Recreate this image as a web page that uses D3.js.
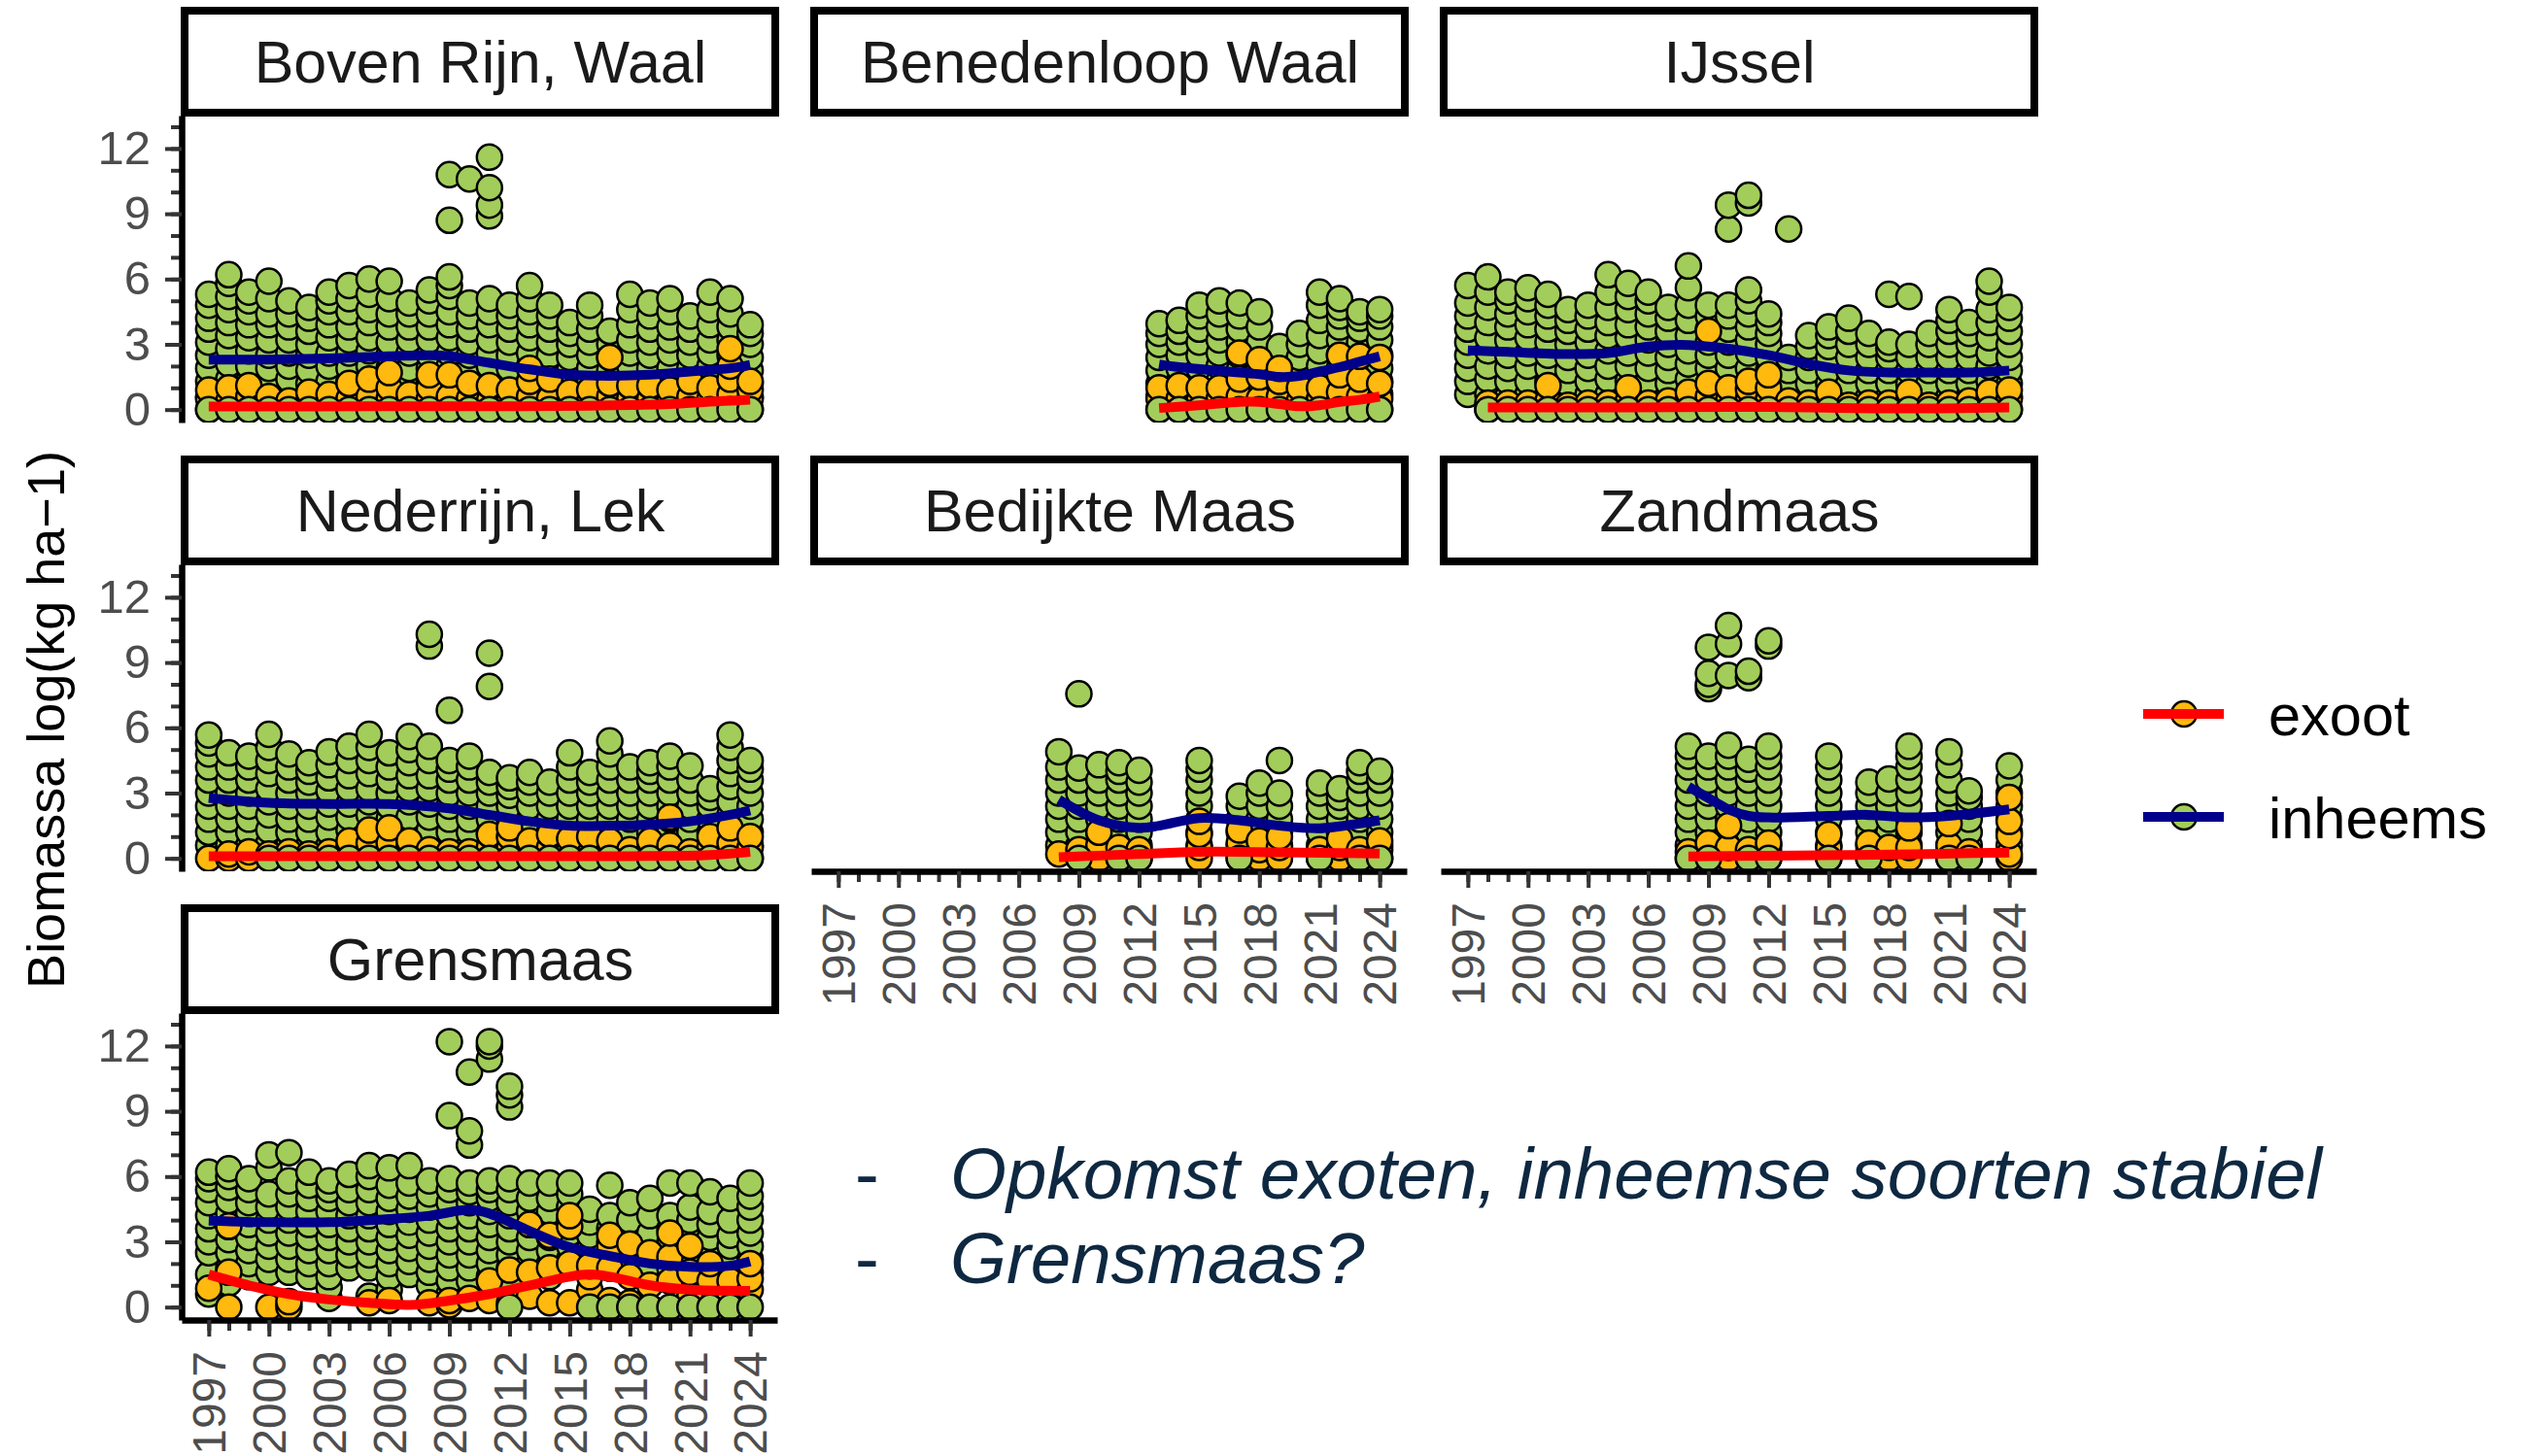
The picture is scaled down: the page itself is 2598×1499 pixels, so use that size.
<!DOCTYPE html>
<html><head><meta charset="utf-8">
<script src="https://cdn.jsdelivr.net/npm/d3@7"></script>
<style>body{margin:0;background:#fff}svg text{font-family:"Liberation Sans",Arial,Helvetica,sans-serif}</style>
</head><body><svg id="chart" width="2598" height="1499"></svg>
<script>
// ---------------- DATA ----------------
const panelNames = ["Boven Rijn, Waal","Benedenloop Waal","IJssel","Nederrijn, Lek","Bedijkte Maas","Zandmaas","Grensmaas"];
const xTickLabels = [1997,2000,2003,2006,2009,2012,2015,2018,2021,2024];
const xMinorTicks = [1997,1998,1999,2000,2001,2002,2003,2004,2005,2006,2007,2008,2009,2010,2011,2012,2013,2014,2015,2016,2017,2018,2019,2020,2021,2022,2023,2024];
const yTickLabels = [0,3,6,9,12];
const yMinorTicks = [0,1,2,3,4,5,6,7,8,9,10,11,12,13];
const seriesNames = ["exoot","inheems"];
const yTitle = "Biomassa log(kg ha\u22121)";
const notes = ["Opkomst exoten, inheemse soorten stabiel","Grensmaas?"];

const allYears = [1997,1998,1999,2000,2001,2002,2003,2004,2005,2006,2007,2008,2009,2010,2011,2012,2013,2014,2015,2016,2017,2018,2019,2020,2021,2022,2023,2024];

// Boven Rijn, Waal
const bovenRijnYears = allYears;
const bovenRijnInheems = [
"0 0.6 1.3 1.9 2.5 3.1 3.7 4.2 4.8 5.3","0 0.7 1.4 2.1 2.8 3.4 4.0 4.6 5.2 5.8 6.2","0 0.7 1.3 2.0 2.7 3.3 3.9 4.5 5.0 5.4",
"0 0.6 1.2 1.9 2.5 3.2 3.9 4.4 5.1 5.9","0 0.7 1.4 2.0 2.6 3.2 3.8 4.4 5.0","0 0.6 1.2 1.8 2.5 3.0 3.6 4.2 4.7",
"0 0.7 1.3 2.0 2.6 3.3 3.9 4.5 5.0 5.4","0 0.6 1.3 1.9 2.6 3.2 3.8 4.5 5.1 5.7","0 0.7 1.4 2.0 2.7 3.3 4.0 4.6 5.3 6.0",
"0 0.6 1.2 1.9 2.5 3.1 3.8 4.4 5.1 5.9","0 0.7 1.3 1.9 2.6 3.2 3.8 4.4 4.9","0 0.6 1.3 1.9 2.5 3.2 3.8 4.4 5.0 5.5",
"0 0.7 1.3 2.0 2.6 3.3 3.9 4.5 5.2 5.7 6.1 8.7 10.8","0 0.6 1.2 1.9 2.5 3.1 3.7 4.3 4.9 10.6","0 0.7 1.3 2.0 2.6 3.2 3.9 4.5 5.1 8.9 9.4 10.2 11.6",
"0 0.6 1.3 1.9 2.5 3.1 3.7 4.3 4.8","0 0.7 1.3 2.0 2.6 3.3 3.9 4.5 5.1 5.7","0 0.6 1.2 1.9 2.5 3.1 3.7 4.3 4.8",
"0 0.6 1.2 1.8 2.4 3.0 3.5 4.0","0 0.7 1.3 1.9 2.5 3.1 3.7 4.3 4.8","0 0.6 1.2 1.8 2.4 3.0 3.6",
"0 0.7 1.3 2.0 2.6 3.2 3.9 4.6 5.3","0 0.6 1.3 1.9 2.5 3.1 3.7 4.3 4.9","0 0.7 1.3 1.9 2.6 3.2 3.8 4.5 5.1",
"0 0.6 1.2 1.9 2.5 3.1 3.7 4.3","0 0.7 1.3 2.0 2.6 3.2 3.9 4.6 5.4","0 0.6 1.3 1.9 2.5 3.2 3.8 4.4 5.1",
"0 0.6 1.2 1.8 2.4 3.0 3.5 3.9"];
const bovenRijnExoot = [
"0 0.5 0.9","0 0.4 1.0","0 0.6 1.1","0 0.3 0.6","0 0.4","0 0.4 0.8","0 0.3 0.7","0 0.5 1.2","0 0.6 1.4","0 0.5 1.0 1.7",
"0 0.3 0.7","0 0.5 1.0 1.6","0 0.6 1.6","0 0.5 1.2","0 0.4 1.1","0 0.4 0.9","0 0.6 1.3 1.9","0 0.5 1.4","0 0.4 0.8","0 0.4 0.9",
"0 0.6 1.2 2.4","0 0.5 1.1","0 0.5 1.1","0 0.4 0.9","0 0.6 1.3","0 0.5 1.0","0 0.7 1.4 2.0 2.8","0 0.5 0.9 1.3"];
const bovenRijnTrendYears = [1997,2000,2003,2006,2008,2009,2011,2013,2015,2017,2019,2021,2023,2024];
const bovenRijnTrendInheems = [2.3,2.3,2.35,2.45,2.5,2.45,2.15,1.85,1.6,1.55,1.6,1.75,1.9,2.05];
const bovenRijnTrendExootYears = [1997,2001,2005,2010,2016,2020,2022,2024];
const bovenRijnTrendExoot = [0.14,0.14,0.15,0.15,0.18,0.25,0.37,0.45];

// Benedenloop Waal
const benedenloopYears = [2013,2014,2015,2016,2017,2018,2019,2020,2021,2022,2023,2024];
const benedenloopInheems = [
"0 0.6 1.2 1.8 2.4 3.0 3.5 3.95","0 0.7 1.3 1.9 2.5 3.1 3.6 4.1","0 0.6 1.3 1.9 2.5 3.1 3.7 4.3 4.8",
"0 0.7 1.3 2.0 2.6 3.2 3.8 4.4 5.0","0 0.6 1.2 1.8 2.5 3.1 3.7 4.3 4.9","0 0.7 1.3 1.9 2.5 3.1 3.8 4.5",
"0 0.6 1.2 1.8 2.4 2.9","0 0.6 1.2 1.8 2.4 3.0 3.5","0 0.7 1.3 2.0 2.7 3.4 4.1 4.8 5.4",
"0 0.6 1.3 1.9 2.5 3.2 3.8 4.3 4.7 5.1","0 0.6 1.2 1.9 2.5 3.1 3.7 4.2 4.5","0 0.7 1.3 1.9 2.5 3.2 3.8 4.3 4.6"];
const benedenloopExoot = ["0 0.5 1.0","0 0.5 1.1","0 0.4 1.0","0 0.5 1.0","0 0.6 1.4 2.6","0 0.5 1.5 2.3",
"0 0.6 1.3 1.9","0 0.4 1.0","0 0.5 1.0","0 0.8 1.6 2.5","0 0.6 1.4 2.45","0 0.5 1.2 2.4"];
const benedenloopTrendYears = [2013,2014,2016,2018,2019,2020,2021,2022,2023,2024];
const benedenloopTrendInheems = [2.08,1.95,1.78,1.63,1.5,1.55,1.75,1.95,2.2,2.45];
const benedenloopTrendExootYears = [2013,2015,2017,2018,2019,2020,2021,2022,2023,2024];
const benedenloopTrendExoot = [0.07,0.2,0.35,0.35,0.25,0.15,0.2,0.35,0.45,0.6];

// IJssel
const ijsselYears = allYears;
const ijsselInheems = [
"0.7 1.3 1.9 2.5 3.1 3.7 4.3 4.9 5.7","0 0.7 1.4 2.0 2.7 3.3 4.0 4.7 5.4 6.1","0 0.6 1.3 1.9 2.5 3.2 3.8 4.4 5.0 5.4",
"0 0.7 1.3 2.0 2.6 3.3 3.9 4.5 5.1 5.6","0 0.6 1.3 1.9 2.5 3.1 3.7 4.3 4.8 5.3","0 0.6 1.2 1.8 2.4 3.0 3.6 4.1 4.6",
"0 0.7 1.3 1.9 2.5 3.1 3.7 4.3 4.8","0 0.7 1.4 2.0 2.7 3.4 4.0 4.7 5.4 6.2","0 0.6 1.3 2.0 2.6 3.3 3.9 4.6 5.2 5.8",
"0 0.7 1.3 1.9 2.6 3.2 3.8 4.4 5.0 5.4","0 0.6 1.2 1.8 2.4 3.0 3.6 4.2 4.7","0 0.7 1.4 2.1 2.7 3.4 4.1 4.8 5.6 6.6",
"0 0.6 1.2 1.9 2.5 3.1 3.7 4.3 4.8","0 0.7 1.3 1.9 2.5 3.1 3.7 4.3 4.8 8.3 9.4","0 0.6 1.3 1.9 2.6 3.2 3.8 4.4 5.0 5.5 9.5 9.85",
"0 0.6 1.2 1.8 2.4 3.0 3.5 4.0 4.4","0 0.6 1.2 1.8 2.4 8.3","0 0.6 1.2 1.8 2.4 2.9 3.4",
"0 0.6 1.2 1.8 2.4 2.9 3.4 3.8","0 0.6 1.2 1.8 2.4 3.0 3.6 4.2","0 0.6 1.2 1.8 2.4 3.0 3.5",
"0 0.6 1.2 1.8 2.4 2.8 3.1 5.3","0 0.6 1.2 1.8 2.4 3.0 5.2","0 0.6 1.2 1.8 2.4 3.0 3.5",
"0 0.6 1.2 1.8 2.4 3.0 3.6 4.1 4.6","0 0.6 1.2 1.8 2.4 3.0 3.5 4.0","0 0.7 1.3 2.0 2.6 3.3 4.0 4.6 5.4 5.9",
"0 0.6 1.2 1.8 2.4 3.0 3.6 4.2 4.7"];
const ijsselExoot = ["","0 0.3","0 0.3","0 0.3","0 0.4 1.1","0 0.2","0 0.3","0 0.3","0 0.4 1.0","0 0.3","0 0.4",
"0 0.5 0.8","0 0.6 1.2 3.6","0 0.4 1.0","0 0.5 0.94 1.3","0 0.5 1.0 1.6","0 0.4","0 0.3","0 0.4 0.8","0 0.2",
"0 0.3","0 0.3","0 0.4 0.8","0 0.2","0 0.3","0 0.4","0 0.5 0.8","0 0.5 0.9"];
const ijsselTrendYears = [1997,1999,2002,2004,2006,2008,2010,2012,2014,2016,2018,2020,2022,2024];
const ijsselTrendInheems = [2.72,2.65,2.55,2.6,2.9,2.97,2.8,2.5,2.1,1.8,1.7,1.7,1.7,1.8];
const ijsselTrendExootYears = [1998,2005,2012,2018,2024];
const ijsselTrendExoot = [0.1,0.1,0.12,0.05,0.1];

// Nederrijn, Lek
const nederrijnYears = allYears;
const nederrijnInheems = [
"0.6 1.2 1.8 2.4 3.0 3.6 4.2 4.8 5.3 5.67","0.6 1.2 1.8 2.4 3.0 3.6 4.2 4.85","0.6 1.2 1.8 2.4 3.0 3.6 4.2 4.7",
"0 0.7 1.3 2.0 2.6 3.2 3.9 4.5 5.1 5.7","0 0.6 1.2 1.8 2.4 3.0 3.6 4.2 4.8","0 0.6 1.2 1.8 2.4 3.0 3.5 4.0 4.4",
"0 0.6 1.2 1.9 2.5 3.1 3.7 4.3 4.9","0 0.6 1.3 1.9 2.5 3.2 3.8 4.5 5.15","0 0.7 1.3 2.0 2.6 3.2 3.9 4.5 5.1 5.7",
"0 0.6 1.2 1.8 2.4 3.0 3.6 4.2 4.85","0 0.7 1.3 1.9 2.6 3.2 3.8 4.4 5.0 5.6","0 0.6 1.3 1.9 2.5 3.2 3.8 4.5 5.15 9.76 10.3",
"0 0.6 1.2 1.8 2.4 3.0 3.6 4.1 4.5 6.8","0 0.6 1.2 1.8 2.4 3.0 3.6 4.2 4.7","0 0.6 1.2 1.8 2.4 3.0 3.5 3.95 7.9 9.43",
"0 0.6 1.2 1.8 2.4 2.9 3.3 3.7","0 0.6 1.2 1.8 2.4 3.0 3.5 3.95","0 0.6 1.2 1.8 2.4 3.0 3.5",
"0 0.6 1.2 1.8 2.4 3.0 3.6 4.2 4.85","0 0.6 1.2 1.8 2.4 3.0 3.5 3.95","0 0.6 1.2 1.8 2.4 3.0 3.6 4.2 4.8 5.4",
"0 0.6 1.2 1.8 2.4 3.0 3.6 4.2","0 0.6 1.2 1.8 2.4 3.0 3.6 4.0 4.4","0 0.6 1.2 1.8 2.4 3.0 3.6 4.2 4.7",
"0 0.6 1.2 1.8 2.4 3.0 3.6 4.25","0 0.6 1.2 1.8 2.4 2.8 3.2","0 0.7 1.3 2.0 2.6 3.3 3.9 4.5 5.1 5.67",
"0 0.6 1.2 1.8 2.4 3.0 3.6 4.1 4.5"];
const nederrijnExoot = ["0","0 0.2","0 0.3","0 0.2","0 0.3","0 0.2","0 0.3","0 0.5 0.8","0 0.7 1.3","0 0.7 1.4",
"0 0.5 0.8","0 0.4","0 0.3","0 0.3","0 0.5 1.1","0 0.5 1.0 1.4","0 0.4 0.8","0 0.5 1.1","0 0.4 0.9","0 0.2 1.0",
"0 0.3 0.8","0 0.4","0 0.4 0.8","0 0.6 1.9","0 0.3","0 0.5 1.0","0 0.7 1.4","0 0.5 1.0"];
const nederrijnTrendYears = [1997,2000,2003,2006,2009,2011,2013,2015,2017,2019,2021,2023,2024];
const nederrijnTrendInheems = [2.77,2.55,2.5,2.5,2.3,2.0,1.7,1.5,1.5,1.55,1.7,2.0,2.2];
const nederrijnTrendExootYears = [1997,2005,2012,2018,2022,2024];
const nederrijnTrendExoot = [0.1,0.1,0.1,0.1,0.15,0.3];

// Bedijkte Maas
const bedijkteYears = [2008,2009,2010,2011,2012,2015,2017,2018,2019,2021,2022,2023,2024];
const bedijkteInheems = [
"0.6 1.2 1.8 2.4 3.0 3.6 4.2 4.9","0 0.6 1.2 1.8 2.4 3.0 3.6 4.15 7.56","0.6 1.2 1.8 2.4 3.0 3.6 4.3",
"0 0.6 1.2 1.8 2.4 3.0 3.6 4.0 4.4","0 0.6 1.2 1.8 2.4 3.0 3.5 4.05","0.6 1.2 1.8 2.4 3.0 3.6 4.1 4.5",
"0 0.6 1.2 1.8 2.4 2.86","0.6 1.2 1.8 2.4 3.0 3.46","0.6 1.2 1.8 2.4 3.0 4.5",
"0 0.6 1.2 1.8 2.4 3.0 3.46","0.6 1.2 1.8 2.4 2.8 3.2","0 0.6 1.2 1.8 2.4 3.0 3.6 4.0 4.4","0 0.6 1.2 1.8 2.4 3.0 3.6 4.0"];
const bedijkteExoot = ["0.2","0 0.4","0 0.6 1.2","0 0.5","0 0.4","0 0.5 1.1 1.7","0 0.7 1.3","0 0.4 0.8","0 0.5 1.0",
"0 0.4","0 0.5 0.9","0 0.4","0 0.4 0.8"];
const bedijkteTrendYears = [2008,2010,2012,2013,2015,2017,2019,2021,2023,2024];
const bedijkteTrendInheems = [2.7,1.75,1.4,1.5,1.85,1.75,1.5,1.38,1.6,1.75];
const bedijkteTrendExootYears = [2008,2012,2015,2019,2024];
const bedijkteTrendExoot = [0.05,0.2,0.3,0.28,0.22];

// Zandmaas
const zandmaasYears = [2008,2009,2010,2011,2012,2015,2017,2018,2019,2021,2022,2024];
const zandmaasInheems = [
"0 0.6 1.2 1.8 2.4 3.0 3.6 4.2 4.7 5.15","0 0.6 1.2 1.8 2.4 3.0 3.6 4.2 4.7 7.8 8.0 8.5 9.7",
"0.6 1.2 1.8 2.4 3.0 3.6 4.2 4.7 5.2 8.4 9.85 10.7","0 0.6 1.2 1.8 2.4 3.0 3.6 4.1 4.55 8.3 8.6",
"0 0.6 1.2 1.8 2.4 3.0 3.6 4.2 4.7 5.15 9.76 10.0","0 0.6 1.2 1.8 2.4 3.0 3.6 4.2 4.7",
"0 0.6 1.2 1.8 2.4 3.0 3.5","0.6 1.2 1.8 2.4 3.0 3.65","0.6 1.2 1.8 2.4 3.0 3.6 4.2 4.7 5.15",
"0 0.6 1.2 1.8 2.4 3.0 3.6 4.3 4.9","0 0.6 1.2 1.8 2.4 2.8 3.1","0.6 1.2 1.8 2.4 3.0 3.6 4.25"];
const zandmaasExoot = ["0 0.3","0 0.4 0.7","0 0.5 1.5","0 0.4","0 0.3 0.7","0 0.5 1.1","0 0.3 0.7","0 0.5","0 0.5 1.4",
"0 0.6 1.6","0 0.3","0 0.2 1.05 1.7 2.8"];
const zandmaasTrendYears = [2008,2009,2010,2011,2012,2015,2017,2019,2021,2024];
const zandmaasTrendInheems = [3.3,2.77,2.25,1.95,1.88,1.95,2.0,1.88,1.95,2.25];
const zandmaasTrendExootYears = [2008,2012,2016,2020,2024];
const zandmaasTrendExoot = [0.09,0.12,0.15,0.2,0.27];

// Grensmaas
const grensmaasYears = allYears;
const grensmaasInheems = [
"0.6 1.5 2.5 3.0 3.6 4.2 4.8 5.4 5.9 6.2","1.1 1.8 2.5 3.1 3.7 4.3 4.9 5.5 6.0 6.36","1.4 2.0 2.6 3.2 3.8 4.3 4.8 5.4 5.9",
"1.6 2.2 2.8 3.4 4.0 4.6 5.2 6.4 7.0","1.6 2.2 2.8 3.4 4.0 4.6 5.2 5.8 7.1","1.4 2.0 2.6 3.2 3.8 4.4 5.0 5.6 6.2",
"0.4 0.9 1.4 2.0 2.6 3.2 3.8 4.4 5.0 5.4 5.8","1.8 2.4 3.0 3.6 4.2 4.8 5.4 6.1","0.5 1.8 2.4 3.0 3.6 4.2 4.8 5.4 6.0 6.5",
"0.8 1.4 2.0 2.6 3.2 3.8 4.4 5.0 5.6 6.4","1.5 2.1 2.7 3.3 3.9 4.5 5.1 5.7 6.5","1.0 1.6 2.2 2.8 3.4 4.0 4.6 5.2 5.8",
"0.6 1.2 1.8 2.4 3.0 3.6 4.2 4.8 5.4 5.9 8.8 12.2","1.2 1.8 2.4 3.0 3.6 4.2 4.8 5.3 5.7 7.45 8.1 10.8",
"1.4 2.0 2.6 3.2 3.8 4.4 5.0 5.4 5.8 11.4 12.0 12.2","0 1.2 1.8 2.4 3.0 3.6 4.2 4.8 5.4 5.9 9.2 9.75 10.15",
"2.0 2.6 3.2 3.8 4.4 5.0 5.7","1.4 2.0 2.6 3.2 3.8 4.4 5.0 5.7","2.2 2.8 3.4 4.0 4.6 5.2 5.7",
"0 1.5 2.1 2.7 3.3 3.9 4.5","0 1.8 2.4 3.0 3.6 4.2 5.6","0 2.2 2.8 3.4 4.0 4.8","0 2.0 2.8 3.4 4.2 5.0",
"0 1.8 2.4 3.0 3.6 4.2 5.7","0 1.6 2.2 2.8 3.4 4.0 4.6 5.7","0 1.4 2.0 2.6 3.2 3.8 4.4 5.3",
"0 1.6 2.2 2.8 3.3 4.0 5.0","0 1.6 2.2 2.8 3.4 4.0 4.6 5.1 5.7"];
const grensmaasExoot = ["0.87","0 1.6 3.72","","0","0 0.25","","","","0.2","0.3","","0.2","0.1 0.3","0.4","0.3 1.2",
"0.2 1.7","0.5 1.6 3.8","0.2 1.8 3.3","0.2 2.0 3.7 4.2","0.8 1.4 1.9","0.3 1.8 2.8 3.3","0.2 1.4 2.9","1.0 2.5",
"1.2 2.3 3.4","0.5 1.6 2.8","1.2 2.0","0.6 1.2","0.8 1.3 2.0"];
const grensmaasTrendYears = [1997,2000,2003,2006,2008,2010,2011,2013,2015,2017,2019,2021,2023,2024];
const grensmaasTrendInheems = [3.97,3.9,3.9,4.05,4.2,4.47,4.3,3.5,2.75,2.35,2.0,1.85,1.9,2.1];
const grensmaasTrendExootYears = [1997,1999,2001,2003,2005,2007,2009,2011,2013,2015,2016,2017,2019,2021,2024];
const grensmaasTrendExoot = [1.5,1.0,0.6,0.35,0.2,0.1,0.3,0.6,1.0,1.4,1.5,1.4,1.0,0.8,0.75];

// ---------------- BUILD ----------------
const panels = [
 {years:bovenRijnYears,inh:bovenRijnInheems,exo:bovenRijnExoot,tY:bovenRijnTrendYears,tI:bovenRijnTrendInheems,tEY:bovenRijnTrendExootYears,tE:bovenRijnTrendExoot},
 {years:benedenloopYears,inh:benedenloopInheems,exo:benedenloopExoot,tY:benedenloopTrendYears,tI:benedenloopTrendInheems,tEY:benedenloopTrendExootYears,tE:benedenloopTrendExoot},
 {years:ijsselYears,inh:ijsselInheems,exo:ijsselExoot,tY:ijsselTrendYears,tI:ijsselTrendInheems,tEY:ijsselTrendExootYears,tE:ijsselTrendExoot},
 {years:nederrijnYears,inh:nederrijnInheems,exo:nederrijnExoot,tY:nederrijnTrendYears,tI:nederrijnTrendInheems,tEY:nederrijnTrendExootYears,tE:nederrijnTrendExoot},
 {years:bedijkteYears,inh:bedijkteInheems,exo:bedijkteExoot,tY:bedijkteTrendYears,tI:bedijkteTrendInheems,tEY:bedijkteTrendExootYears,tE:bedijkteTrendExoot},
 {years:zandmaasYears,inh:zandmaasInheems,exo:zandmaasExoot,tY:zandmaasTrendYears,tI:zandmaasTrendInheems,tEY:zandmaasTrendExootYears,tE:zandmaasTrendExoot},
 {years:grensmaasYears,inh:grensmaasInheems,exo:grensmaasExoot,tY:grensmaasTrendYears,tI:grensmaasTrendInheems,tEY:grensmaasTrendExootYears,tE:grensmaasTrendExoot}
];

const GREEN = "#A2CD5A", ORANGE = "#FFB90F", RED = "#FF0000", BLUE = "#00008B";
const W = 613, H = 316;
const colX = [187, 835, 1483], rowY = [119, 581, 1043];
const x = d3.scaleLinear().domain([1995.65, 2025.35]).range([0, W]);
const y = d3.scaleLinear().domain([-0.594, 13.513]).range([H, 0]);
const svg = d3.select("#chart");
const defs = svg.append("defs");
const parse = s => s.trim() === "" ? [] : s.trim().split(/\s+/).map(Number);
const lineGen = d3.line().x(d => x(d[0])).y(d => y(d[1])).curve(d3.curveCatmullRom.alpha(0.5));
const R = 13;

panels.forEach((p, i) => {
  const col = i % 3, row = Math.floor(i / 3);
  const g = svg.append("g").attr("transform", `translate(${colX[col]},${rowY[row]})`);
  defs.append("clipPath").attr("id", "clip" + i).append("rect").attr("x", 0).attr("y", 0).attr("width", W).attr("height", H);
  const pg = g.append("g").attr("clip-path", `url(#clip${i})`);
  const green = [], orange = [];
  p.years.forEach((yr, j) => {
    parse(p.inh[j]).forEach(v => green.push([yr, v]));
    parse(p.exo[j]).forEach(v => orange.push([yr, v]));
  });
  const layers = [[green.filter(d => d[1] > 0), GREEN], [orange, ORANGE], [green.filter(d => d[1] === 0), GREEN]];
  layers.forEach(([data, fill]) => {
    pg.append("g").selectAll("circle").data(data).join("circle")
      .attr("cx", d => x(d[0])).attr("cy", d => y(d[1])).attr("r", R)
      .attr("fill", fill).attr("stroke", "#000").attr("stroke-width", 2.5);
  });
  pg.append("path").attr("d", lineGen(p.tEY.map((yr, k) => [yr, p.tE[k]])))
    .attr("fill", "none").attr("stroke", RED).attr("stroke-width", 10);
  pg.append("path").attr("d", lineGen(p.tY.map((yr, k) => [yr, p.tI[k]])))
    .attr("fill", "none").attr("stroke", BLUE).attr("stroke-width", 10);

  // strip
  g.append("rect").attr("x", 3).attr("y", -108).attr("width", 608).attr("height", 105)
    .attr("fill", "#fff").attr("stroke", "#000").attr("stroke-width", 8);
  g.append("text").attr("x", W / 2 + 1).attr("y", -34).attr("text-anchor", "middle")
    .attr("font-size", 61).attr("fill", "#1A1A1A").text(panelNames[i]);

  // y axis (first column)
  if (col === 0) {
    const minor = g.append("g").call(d3.axisLeft(y).tickValues(yMinorTicks).tickSize(11).tickSizeOuter(0).tickFormat(""));
    minor.select(".domain").remove();
    const major = g.append("g").call(d3.axisLeft(y).tickValues(yTickLabels).tickSize(17).tickPadding(15).tickSizeOuter(0));
    [minor, major].forEach(a => a.selectAll(".tick line").attr("stroke", "#333").attr("stroke-width", 4));
    major.select(".domain").attr("stroke", "#000").attr("stroke-width", 6.5);
    major.selectAll("text").attr("font-size", 49).attr("fill", "#4D4D4D").style("font-family", '"Liberation Sans",Arial,sans-serif');
  }
  // x axis (bottom panel of each column)
  if (i >= 4) {
    const minor = g.append("g").attr("transform", `translate(0,${H})`)
      .call(d3.axisBottom(x).tickValues(xMinorTicks).tickSize(11).tickSizeOuter(0).tickFormat(""));
    minor.select(".domain").remove();
    const major = g.append("g").attr("transform", `translate(0,${H})`)
      .call(d3.axisBottom(x).tickValues(xTickLabels).tickSize(17).tickPadding(15).tickSizeOuter(0).tickFormat(d3.format("d")));
    [minor, major].forEach(a => a.selectAll(".tick line").attr("stroke", "#333").attr("stroke-width", 4));
    major.select(".domain").attr("stroke", "#000").attr("stroke-width", 6.5);
    major.selectAll("text").attr("font-size", 48).attr("fill", "#4D4D4D")
      .style("font-family", '"Liberation Sans",Arial,sans-serif')
      .attr("transform", "rotate(-90)").attr("text-anchor", "end")
      .attr("x", -32).attr("y", 0).attr("dy", "0.35em");
  }
});

// y title
svg.append("text").attr("transform", "translate(66,741) rotate(-90)").attr("text-anchor", "middle")
  .attr("font-size", 54).attr("fill", "#000").text(yTitle);

// legend
const legendColors = [[ORANGE, RED], [GREEN, BLUE]];
const legendY = d3.scalePoint().domain(seriesNames).range([735, 841]);
seriesNames.forEach((s, k) => {
  const ly = legendY(s);
  svg.append("circle").attr("cx", 2248).attr("cy", ly).attr("r", R).attr("fill", legendColors[k][0])
    .attr("stroke", "#000").attr("stroke-width", 2.5);
  svg.append("line").attr("x1", 2206).attr("x2", 2289).attr("y1", ly).attr("y2", ly)
    .attr("stroke", legendColors[k][1]).attr("stroke-width", 10);
  svg.append("text").attr("x", 2335).attr("y", ly + 22).attr("font-size", 59.5).attr("fill", "#000").text(s);
});

// annotation
notes.forEach((t, k) => {
  const by = 1234 + k * 87;
  svg.append("text").attr("x", 880).attr("y", by).attr("font-size", 74.5).attr("fill", "#0E2841").text("-");
  svg.append("text").attr("x", 978).attr("y", by).attr("font-size", 74.5).attr("font-style", "italic")
    .attr("fill", "#0E2841").text(t);
});
</script>
</body></html>
